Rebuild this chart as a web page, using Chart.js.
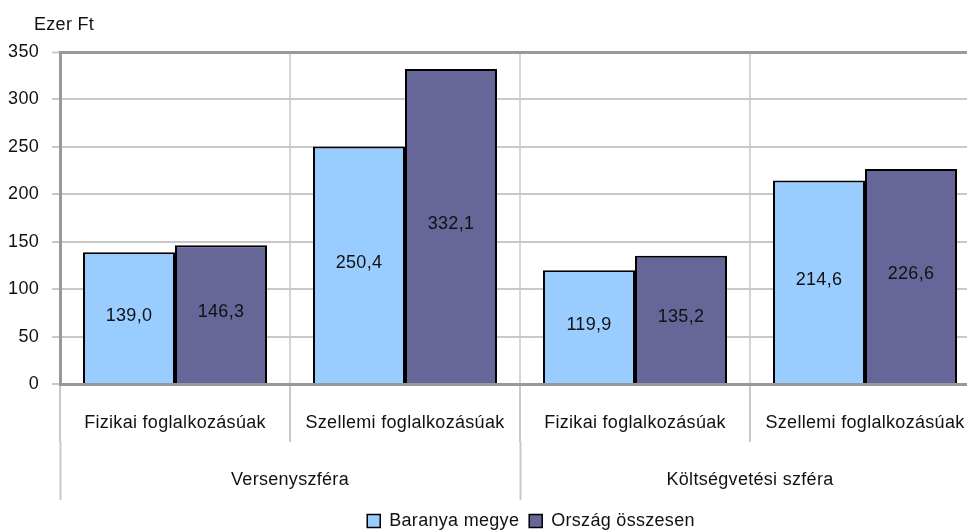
<!DOCTYPE html>
<html>
<head>
<meta charset="utf-8">
<script src="https://cdn.jsdelivr.net/npm/chart.js@4/dist/chart.umd.min.js"></script>
<style>
html,body{margin:0;padding:0;background:#fff;overflow:hidden;}
canvas{display:block;}
</style>
</head>
<body>
<canvas id="c" width="988" height="530" style="width:988px;height:530px"></canvas>
<script>
const categories = ['Fizikai foglalkozásúak', 'Szellemi foglalkozásúak', 'Fizikai foglalkozásúak', 'Szellemi foglalkozásúak'];
const groups = ['Versenyszféra', 'Költségvetési szféra'];
const baranya = [139.0, 250.4, 119.9, 214.6];
const orszag = [146.3, 332.1, 135.2, 226.6];
const seriesNames = ['Baranya megye', 'Ország összesen'];
const yTicks = [0, 50, 100, 150, 200, 250, 300, 350];
const yTitle = 'Ezer Ft';

const FONT = "'Liberation Sans', Arial, sans-serif";
const FS = 18;
const TXT = '#111111';
const LEG_PAD = 10;

const spacingPlugin = {
  id: 'spacing',
  beforeUpdate(chart) { chart.ctx.letterSpacing = '0.3px'; },
  beforeDraw(chart) { chart.ctx.letterSpacing = '0.3px'; },
  afterLayout(chart) {
    const lg = chart.legend;
    if (!lg) return;
    const h = lg.bottom - lg.top;
    const top = 521 - LEG_PAD - FS / 2;
    lg.top = top; lg.bottom = top + h; lg.height = h;
    const dx = 531 - (lg.left + lg.right) / 2;
    lg.left += dx; lg.right += dx;
  }
};

const labelPlugin = {
  id: 'barLabels',
  afterDatasetsDraw(chart) {
    const ctx = chart.ctx;
    ctx.save();
    ctx.font = FS + 'px ' + FONT;
    ctx.fillStyle = TXT;
    ctx.textAlign = 'center';
    ctx.textBaseline = 'middle';
    chart.data.datasets.forEach((ds, i) => {
      const meta = chart.getDatasetMeta(i);
      meta.data.forEach((el, j) => {
        const p = el.getProps(['x', 'y', 'base'], true);
        const txt = ds.data[j].toFixed(1).replace('.', ',');
        ctx.fillText(txt, p.x, (p.y + p.base) / 2 - 2);
      });
    });
    ctx.restore();
  }
};

const titlePlugin = {
  id: 'yTitle',
  afterDraw(chart) {
    const ctx = chart.ctx;
    ctx.save();
    ctx.font = FS + 'px ' + FONT;
    ctx.fillStyle = TXT;
    ctx.textAlign = 'left';
    ctx.textBaseline = 'middle';
    ctx.fillText(yTitle, 34, 25);
    ctx.restore();
  }
};

new Chart(document.getElementById('c'), {
  type: 'bar',
  data: {
    labels: categories,
    datasets: [
      { label: seriesNames[0], data: baranya, backgroundColor: '#99CCFF', borderColor: '#000000', borderWidth: 2, xAxisID: 'x', yAxisID: 'y' },
      { label: seriesNames[1], data: orszag, backgroundColor: '#666699', borderColor: '#000000', borderWidth: 2, xAxisID: 'x', yAxisID: 'y' }
    ]
  },
  options: {
    responsive: false,
    animation: false,
    layout: { padding: { left: 0, right: 8, top: 52, bottom: -8 } },
    datasets: { bar: { categoryPercentage: 0.8, barPercentage: 1.0 } },
    plugins: {
      legend: {
        position: 'bottom',
        labels: {
          boxWidth: 13, boxHeight: 13, padding: LEG_PAD,
          color: TXT,
          font: { size: FS, family: FONT },
          generateLabels(chart) {
            return chart.data.datasets.map((ds, i) => ({
              text: ds.label, fillStyle: ds.backgroundColor, strokeStyle: '#000', lineWidth: 1.5,
              fontColor: TXT, datasetIndex: i, hidden: false
            }));
          }
        }
      },
      tooltip: { enabled: false }
    },
    scales: {
      x: {
        type: 'category',
        position: 'bottom',
        offset: true,
        grid: { offset: true, display: true, drawOnChartArea: true, color: '#d6d6d6', lineWidth: 2, tickLength: 58, tickColor: '#c8c8c8', tickWidth: 2 },
        border: { display: true, color: '#999999', width: 3 },
        ticks: { color: TXT, font: { size: FS, family: FONT }, padding: -30, maxRotation: 0, autoSkip: false },
        afterFit(s) { s.height = 58; }
      },
      x2: {
        type: 'category',
        position: 'bottom',
        labels: groups,
        offset: true,
        grid: { offset: true, display: true, drawOnChartArea: false, tickLength: 58, tickColor: '#c8c8c8', tickWidth: 2 },
        border: { display: false },
        ticks: { color: TXT, font: { size: FS, family: FONT }, padding: -31, maxRotation: 0, autoSkip: false },
        afterFit(s) { s.height = 58; }
      },
      y: {
        min: 0, max: 350,
        afterBuildTicks(s) { s.ticks = yTicks.map(v => ({ value: v })); },
        grid: {
          color: c => c.tick && c.tick.value === 350 ? '#999999' : '#c8c8c8',
          lineWidth: c => c.tick && c.tick.value === 350 ? 3 : 2,
          tickLength: 8, tickColor: '#c8c8c8', tickWidth: 2
        },
        border: { display: true, color: '#999999', width: 3 },
        ticks: { color: TXT, font: { size: FS, family: FONT }, padding: 13 },
        afterFit(s) { s.width = 60; }
      }
    }
  },
  plugins: [spacingPlugin, labelPlugin, titlePlugin]
});
</script>
</body>
</html>
